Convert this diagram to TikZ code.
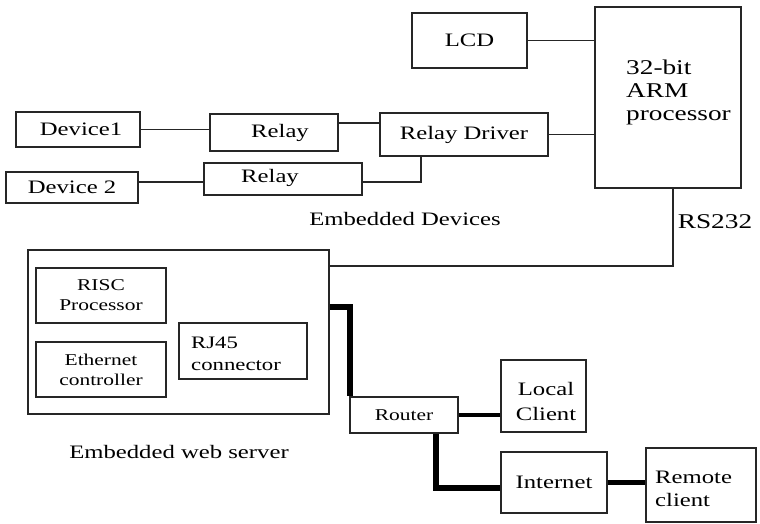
\documentclass[tikz,border=0pt]{standalone}
\usepackage{fontspec}
\setmainfont[FakeStretch=1.3]{Liberation Serif}
\usetikzlibrary{calc}
\begin{document}
\begin{tikzpicture}[x=1pt,y=-1pt,
  box/.style={draw=black!85, line width=1.4pt, inner sep=0pt, align=center,
              font=\fontsize{19}{23}\selectfont},
  smallbox/.style={box, font=\fontsize{16.5}{20}\selectfont},
  lbl/.style={inner sep=0pt, font=\fontsize{19}{23}\selectfont},
  wire/.style={draw=black!85, line width=1.4pt},
  net/.style={draw=black, line width=6pt},
  netthin/.style={draw=black, line width=4.5pt}]
\useasboundingbox[fill=white] (0,0) rectangle (760,523);

% embedded devices
\node[box, minimum width=115pt, minimum height=55pt] (lcd) at (469.5,40.5) {LCD};
\node[box, minimum width=146pt, minimum height=181pt] (arm) at (668,97.5) {};
\node[lbl, anchor=north west, align=left, font=\fontsize{21}{23}\selectfont] (armtext) at (626,60) {32-bit\\ARM\\processor};
\node[box, minimum width=168pt, minimum height=43pt] (rd) at (464,134.5) {Relay Driver};
\node[box, minimum width=128pt, minimum height=37pt] (relay1) at (274,132.5) {\hspace*{12pt}Relay};
\node[box, minimum width=158pt, minimum height=32pt] (relay2) at (283,179) {};
\node[lbl] (relay2text) at (270,178) {Relay};
\node[box, minimum width=124pt, minimum height=35pt] (dev1) at (78,129.5) {\hspace*{6pt}Device1};
\node[box, minimum width=132pt, minimum height=31pt] (dev2) at (72,187.5) {Device 2};
\node[lbl] (devlabel) at (405,219) {Embedded Devices};
\node[lbl, font=\fontsize{21}{23}\selectfont] (rslabel) at (715,222) {RS232};

% embedded web server
\node[box, minimum width=301pt, minimum height=164pt] (server) at (178.5,332) {};
\node[smallbox, minimum width=130pt, minimum height=55pt] (risc) at (101,295.5) {RISC\\Processor};
\node[smallbox, minimum width=130pt, minimum height=55pt] (eth) at (101,369.5) {Ethernet\\controller};
\node[box, minimum width=128pt, minimum height=56pt] (rj45) at (243,351) {};
\node[lbl, anchor=west, align=left, font=\fontsize{17.5}{22}\selectfont] (rj45text) at (191,354) {RJ45\\connector};
\node[lbl] (serverlabel) at (179,452) {Embedded web server};

% network
\node[smallbox, minimum width=108pt, minimum height=36pt] (router) at (404,415) {Router};
\node[box, minimum width=85pt, minimum height=72pt] (local) at (543.5,396) {};
\node[lbl, align=center, font=\fontsize{19}{25}\selectfont] (localtext) at (546,401) {Local\\Client};
\node[box, minimum width=106pt, minimum height=61pt] (internet) at (554,482.5) {Internet};
\node[box, minimum width=110pt, minimum height=74pt] (remote) at (701,485) {};
\node[lbl, anchor=west, align=left] (remotetext) at (655,489) {Remote\\client};

% thin wires
\draw[wire] (lcd.east) -- (lcd.east -| arm.west);
\draw[wire] (rd.east) -- (rd.east -| arm.west);
\coordinate (r1) at ($(relay1.north east)!0.25!(relay1.south east)$);
\draw[wire] (r1) -- (r1 -| rd.west);
\draw[wire] (dev1.east) -- (dev1.east -| relay1.west);
\coordinate (rdj) at (421,182);
\draw[wire] (rd.south -| rdj) -- (rdj) -- (rdj -| relay2.east);
\draw[wire] (dev2.east |- rdj) -- (rdj -| relay2.west);
\coordinate (rs) at (673,266);
\draw[wire] (arm.south -| rs) -- (rs) -- (rs -| server.east);

% thick network wires
\coordinate (k1) at (350,307);
\draw[net] (server.east |- k1) -- (k1) -- (k1 |- router.north);
\draw[netthin] (router.east) -- (router.east -| local.west);
\coordinate (k2) at (436,488);
\draw[net] (router.south -| k2) -- (k2) -- (k2 -| internet.west);
\draw[netthin] (internet.east) -- (internet.east -| remote.west);
\end{tikzpicture}
\end{document}
